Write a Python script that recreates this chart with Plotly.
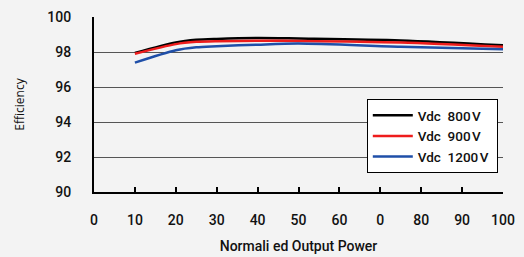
import plotly.graph_objects as go

power = [10, 20, 25, 30, 40, 50, 75, 100]
eff_800 = [97.95, 98.55, 98.70, 98.75, 98.80, 98.77, 98.66, 98.38]
eff_900 = [97.90, 98.45, 98.58, 98.62, 98.64, 98.63, 98.54, 98.30]
eff_1200 = [97.39, 98.10, 98.27, 98.33, 98.42, 98.48, 98.30, 98.16]

series_names = ["Vdc\u00a0\u00a0800\u200aV\u00a0", "Vdc\u00a0\u00a0900\u200aV\u00a0", "Vdc\u00a0\u00a01200\u200aV\u00a0"]
colors = ["#000000", "#ee1c1c", "#1f4fa8"]

x_tickvals = [0, 10, 20, 30, 40, 50, 60, 70, 80, 90, 100]
x_ticktext = ["0", "10", "20", "30", "40", "50", "60", "0", "80", "90", "100"]
y_tickvals = [90, 92, 94, 96, 98, 100]

fig = go.Figure()
for name, ys, c in zip(series_names, [eff_800, eff_900, eff_1200], colors):
    fig.add_trace(go.Scatter(x=power, y=ys, mode="lines", name=name,
                             line=dict(color=c, width=2.5, shape="spline", smoothing=0.8)))

font_tick = dict(family="Roboto", size=14, color="#111", weight=500)

fig.update_layout(
    width=524, height=257,
    margin=dict(l=94, r=21, t=17, b=65),
    paper_bgcolor="#f3f3f3", plot_bgcolor="#f3f3f3",
    showlegend=True,
    legend=dict(x=0.667, y=0.531, xanchor="left", yanchor="top",
                bgcolor="#ffffff", bordercolor="#000000", borderwidth=1,
                font=dict(family="Roboto", size=13.5, color="#111", weight=500),
                itemwidth=40, tracegroupgap=0),
    xaxis=dict(range=[0, 100], tickvals=x_tickvals, ticktext=x_ticktext,
               showgrid=False, zeroline=False, automargin=False,
               showline=True, linecolor="#000", linewidth=2,
               ticks="inside", ticklen=5, tickwidth=2, tickcolor="#000",
               tickfont=font_tick, ticklabelstandoff=14,
               title=dict(text="Normali ed Output Power", standoff=14,
                          font=dict(family="Roboto", size=14, color="#111", weight=500))),
    yaxis=dict(range=[90, 100], tickvals=y_tickvals,
               showgrid=True, gridcolor="#555555", gridwidth=1, zeroline=False,
               automargin=False,
               showline=True, linecolor="#000", linewidth=2,
               ticks="", tickfont=font_tick, ticklabelstandoff=18,
               title=dict(text="Efficiency", standoff=20,
                          font=dict(family="Open Sans", size=12, color="#111"))),
)

fig.write_html("out.html", config={"displayModeBar": False},
               post_script="document.body.style.margin='0';document.body.style.background='#f3f3f3';")
